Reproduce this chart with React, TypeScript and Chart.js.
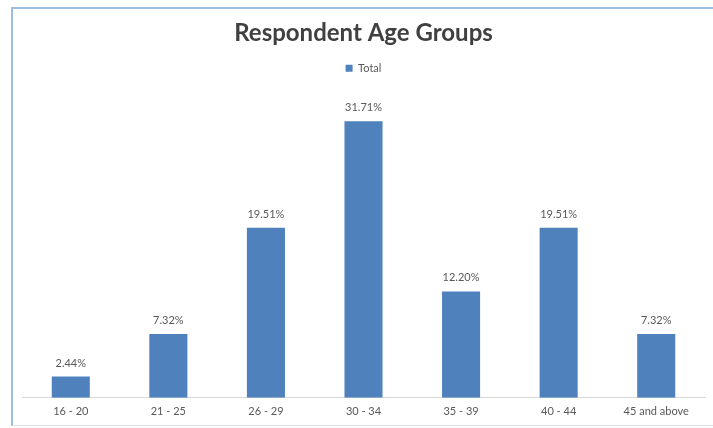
import React, { useEffect, useRef } from "react";
import { Chart, registerables } from "chart.js";

Chart.register(...registerables);

const categories = ["16 - 20", "21 - 25", "26 - 29", "30 - 34", "35 - 39", "40 - 44", "45 and above"];
const totalPercent = [2.44, 7.32, 19.51, 31.71, 12.2, 19.51, 7.32];
const seriesName = "Total";
const chartTitle = "Respondent Age Groups";

const BAR_COLOR = "#4F81BD";
const TEXT_COLOR = "#595959";
const FONT = "Lato, 'Open Sans', sans-serif";

// Writes each bar's percentage just above its top edge.
const valueLabels = {
  id: "valueLabels",
  afterDatasetsDraw(chart: any) {
    const ctx = chart.ctx;
    const meta = chart.getDatasetMeta(0);
    const values = chart.data.datasets[0].data as number[];
    ctx.save();
    ctx.font = `11px ${FONT}`;
    ctx.fillStyle = TEXT_COLOR;
    ctx.textAlign = "center";
    ctx.textBaseline = "bottom";
    meta.data.forEach((bar: any, i: number) => {
      ctx.fillText(values[i].toFixed(2) + "%", bar.x, bar.y - 8);
    });
    ctx.restore();
  },
};

export default function App() {
  const canvasRef = useRef<HTMLCanvasElement | null>(null);

  useEffect(() => {
    if (!canvasRef.current) return;
    const chart = new Chart(canvasRef.current, {
      type: "bar",
      data: {
        labels: categories,
        datasets: [
          {
            label: seriesName,
            data: totalPercent,
            backgroundColor: BAR_COLOR,
            barPercentage: 0.39,
            categoryPercentage: 1,
          },
        ],
      },
      options: {
        animation: false,
        responsive: false,
        layout: { padding: { top: 10, left: 22, right: 8, bottom: 3 } },
        plugins: {
          title: {
            display: true,
            text: chartTitle,
            color: "#404040",
            font: { family: FONT, size: 24, weight: "bold" },
            padding: { top: 9, bottom: 5 },
          },
          legend: {
            display: true,
            labels: {
              boxWidth: 7,
              boxHeight: 7,
              color: TEXT_COLOR,
              font: { family: FONT, size: 11 },
              padding: 10,
            },
          },
          tooltip: { enabled: false },
        },
        scales: {
          x: {
            grid: { display: false, drawTicks: false },
            border: { display: true, color: "#D9D9D9", width: 1 },
            ticks: { color: TEXT_COLOR, font: { family: FONT, size: 11 }, padding: 7 },
          },
          y: {
            display: false,
            min: 0,
            max: 36,
          },
        },
      },
      plugins: [valueLabels],
    });
    return () => chart.destroy();
  }, []);

  return (
    <div style={{ position: "absolute", left: 0, top: 0, width: 713, height: 428, background: "#fff" }}>
      <div
        style={{
          position: "absolute",
          left: 11,
          top: 7,
          width: 713,
          height: 419,
          borderLeft: "2px solid #9DBDE3",
          borderTop: "2px solid #9DBDE3",
          borderBottom: "1px solid #D5E3F3",
          boxSizing: "border-box",
        }}
      />
      <canvas ref={canvasRef} width={713} height={428} style={{ position: "absolute", left: 0, top: 0 }} />
    </div>
  );
}
